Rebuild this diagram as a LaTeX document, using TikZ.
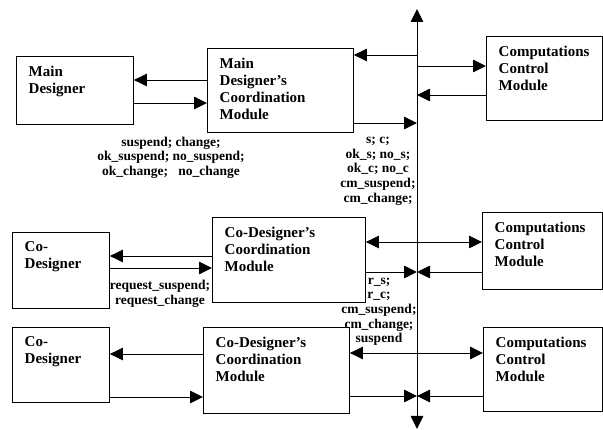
\documentclass[tikz,border=0pt]{standalone}
\usepackage{fontspec}
\setmainfont{Liberation Serif}
\usetikzlibrary{arrows.meta}
\begin{document}
\begin{tikzpicture}[x=1pt,y=-1pt,
  box/.style={draw,line width=0.9pt,inner sep=0,anchor=north west},
  boxtext/.style={anchor=north west,inner sep=0,align=left,
    font=\fontsize{15}{17}\selectfont\bfseries,
    execute at begin node={\rule{0pt}{11pt}}},
  msg/.style={anchor=north,inner sep=0,align=center,
    font=\fontsize{13.5}{14.7}\selectfont\bfseries,
    execute at begin node={\rule{0pt}{10pt}}},
  link/.style={line width=0.9pt,-{Triangle[length=13pt,width=12.5pt]}},
  both/.style={line width=0.9pt,{Triangle[length=13pt,width=12.5pt]}-{Triangle[length=13pt,width=12.5pt]}},
]
\useasboundingbox (0,0) rectangle (603,430);

% ---- boxes ----
\node[box,minimum width=117pt,minimum height=68pt] (md)    at (16,56)  {};
\node[box,minimum width=146pt,minimum height=84pt] (mdcm)  at (207,48) {};
\node[box,minimum width=116pt,minimum height=84pt] (ccma)  at (486,36) {};
\node[box,minimum width=97pt, minimum height=76pt] (cda)   at (12,232) {};
\node[box,minimum width=153pt,minimum height=85pt] (cdcma) at (212,217) {};
\node[box,minimum width=120pt,minimum height=77pt] (ccmb)  at (482,212) {};
\node[box,minimum width=97pt, minimum height=75pt] (cdb)   at (12,327) {};
\node[box,minimum width=146pt,minimum height=86pt] (cdcmb) at (203,327) {};
\node[box,minimum width=119pt,minimum height=84pt] (ccmc)  at (483,327) {};

% ---- box texts ----
\node[boxtext] (mdt)    at ([shift={(12.5,9.5)}]md.north west)    {Main\\Designer};
\node[boxtext] (mdcmt)  at ([shift={(12.5,9.5)}]mdcm.north west)  {Main\\Designer’s\\Coordination\\Module};
\node[boxtext] (ccmat)  at ([shift={(12.5,9.5)}]ccma.north west)  {Computations\\Control\\Module};
\node[boxtext] (cdat)   at ([shift={(12.5,9.5)}]cda.north west)   {Co-\\Designer};
\node[boxtext] (cdcmat) at ([shift={(12.5,9.5)}]cdcma.north west) {Co-Designer’s\\Coordination\\Module};
\node[boxtext] (ccmbt)  at ([shift={(12.5,9.5)}]ccmb.north west)  {Computations\\Control\\Module};
\node[boxtext] (cdbt)   at ([shift={(12.5,9.5)}]cdb.north west)   {Co-\\Designer};
\node[boxtext] (cdcmbt) at ([shift={(12.5,9.5)}]cdcmb.north west) {Co-Designer’s\\Coordination\\Module};
\node[boxtext] (ccmct)  at ([shift={(12.5,9.5)}]ccmc.north west)  {Computations\\Control\\Module};

% ---- vertical bus ----
\coordinate (bustop) at (417,9);
\coordinate (busbot) at (417,429);
\coordinate (bus) at (417,0);
\draw[both] (bustop) -- (busbot);

% ---- main designer row ----
\draw[link] (mdcm.west |- 0,80)  -- (md.east |- 0,80);
\draw[link] (md.east |- 0,103)   -- (mdcm.west |- 0,103);
\draw[link] (bus |- 0,55)        -- (mdcm.east |- 0,55);
\draw[link] (bus |- 0,66)        -- (ccma.west |- 0,66);
\draw[link] (ccma.west |- 0,95)  -- (bus |- 0,95);
\draw[link] (mdcm.east |- 0,123) -- (bus |- 0,123);

% ---- first co-designer row ----
\draw[link] (cdcma.west |- 0,256) -- (cda.east |- 0,256);
\draw[link] (cda.east |- 0,268)   -- (cdcma.west |- 0,268);
\draw[both] (cdcma.east |- 0,242) -- (ccmb.west |- 0,242);
\draw[link] (cdcma.east |- 0,272) -- (bus |- 0,272);
\draw[link] (ccmb.west |- 0,272)  -- (bus |- 0,272);

% ---- second co-designer row ----
\draw[link] (cdcmb.west |- 0,354) -- (cdb.east |- 0,354);
\draw[link] (cdb.east |- 0,397)   -- (cdcmb.west |- 0,397);
\draw[both] (cdcmb.east |- 0,353) -- (ccmc.west |- 0,353);
\draw[link] (cdcmb.east |- 0,396) -- (bus |- 0,396);
\draw[link] (ccmc.west |- 0,396)  -- (bus |- 0,396);

% ---- message labels ----
\node[msg] (msgmain) at (171,136.5) {suspend; change;\\ok\_suspend; no\_suspend;\\ok\_change;\ \ \ no\_change};
\node[msg] (msgbusa) at (378,137)   {s; c;\\ok\_s; no\_s;\\ok\_c; no\_c\\cm\_suspend;\\cm\_change;};
\node[msg] (msgco)   at (160,280)   {request\_suspend;\\request\_change};
\node[msg] (msgbusb) at (379,277.5) {r\_s;\\r\_c;\\cm\_suspend;\\cm\_change;\\suspend};
\end{tikzpicture}
\end{document}
